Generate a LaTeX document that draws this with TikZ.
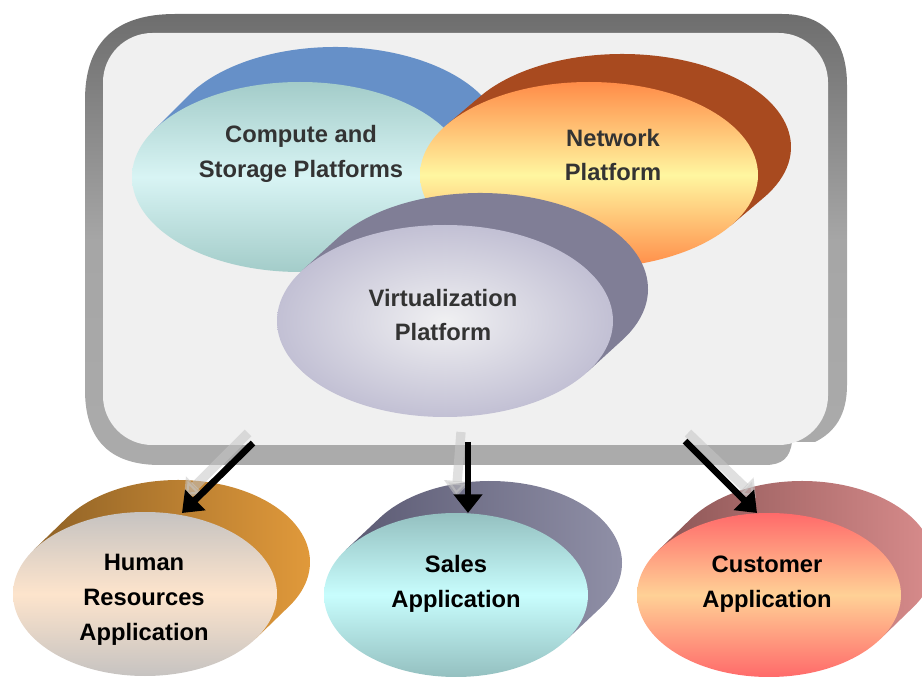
\documentclass[tikz,border=0pt]{standalone}
\usepackage{fontspec}
\setmainfont{Liberation Sans}
\usetikzlibrary{arrows.meta}
\definecolor{csBack}{HTML}{6690C8}\definecolor{csTop}{HTML}{A3CCC9}\definecolor{csMid}{HTML}{D8F4F4}
\definecolor{netBack}{HTML}{A84A1F}\definecolor{netTop}{HTML}{FF8C48}\definecolor{netMid}{HTML}{FFF6A0}
\definecolor{virBack}{HTML}{807E96}\definecolor{virIn}{HTML}{F0F0F2}\definecolor{virOut}{HTML}{C2C0D4}
\definecolor{hrL}{HTML}{8F6226}\definecolor{hrR}{HTML}{E69D3C}\definecolor{hrTop}{HTML}{C6C3C1}\definecolor{hrMid}{HTML}{FDE4CC}
\definecolor{saL}{HTML}{5B5A73}\definecolor{saR}{HTML}{9393AA}\definecolor{saTop}{HTML}{94C0C0}\definecolor{saMid}{HTML}{C8FDFD}
\definecolor{cuL}{HTML}{8C5656}\definecolor{cuR}{HTML}{DD8F8F}\definecolor{cuTop}{HTML}{FF6A6A}\definecolor{cuMid}{HTML}{FFD196}
\definecolor{panelFill}{HTML}{F0F0F0}
\definecolor{txtGray}{HTML}{333333}
% extruded ellipse: cx, cy, rx, ry, dx, dy, side style, front style
\newcommand{\xell}[8]{%
  \pgfmathsetmacro{\tz}{atan2((#5)/(#3), -(#6)/(#4))}%
  \path[#7] ({#1+#3*cos(\tz)},{#2+#4*sin(\tz)}) -- ++(#5,#6)
     arc[start angle=\tz, end angle=\tz-180, x radius=#3, y radius=#4]
     -- ++({-(#5)},{-(#6)}) -- cycle;
  \path[#8] (#1,#2) ellipse[x radius=#3, y radius=#4];
}
\begin{document}
\begin{tikzpicture}[x=0.75pt,y=-0.75pt,
  lbl/.style={font=\fontsize{17.8}{26.2}\selectfont\bfseries, align=center, inner sep=0pt},
  toplbl/.style={lbl, text=txtGray},
  botlbl/.style={lbl, text=black},
  ghost/.style={line width=7pt, draw=gray!45, opacity=0.55, -{Triangle[length=12pt,width=19pt]}},
  flowarrow/.style={line width=5pt, draw=black, -{Triangle[length=14pt,width=21pt]}}]
\useasboundingbox (0,0) rectangle (922,677);
% frame
\path[top color=black!57, bottom color=black!33, middle color=black!35]
  (85,100) .. controls (85,40) and (118,14) .. (175,14) -- (782,14)
  .. controls (825,14) and (847,40) .. (847,85) -- (847,385)
  .. controls (847,415) and (835,432) .. (815,442) -- (792,442)
  .. controls (790,458) and (782,465) .. (765,465) -- (160,465)
  .. controls (110,465) and (85,440) .. (85,390) -- cycle;
\fill[panelFill] (103,33) [rounded corners=37pt] rectangle (828,445);
% top platforms
\xell{300}{177}{168}{95}{35}{-35}{fill=csBack}{top color=csTop, bottom color=csTop, middle color=csMid}
\xell{589}{175}{169}{93}{33}{-28}{fill=netBack}{top color=netTop, bottom color=netTop, middle color=netMid}
\xell{445}{321}{168}{96}{35}{-32}{fill=virBack}{inner color=virIn, outer color=virOut}
\node[toplbl] (cs) at (301,154) {Compute and\\Storage Platforms};
\node[toplbl] (net) at (613,155) {Network\\Platform};
\node[toplbl] (vir) at (443,315) {Virtualization\\Platform};
% applications
\xell{145}{594}{132}{82}{33}{-32}{left color=hrL, right color=hrR}{top color=hrTop, bottom color=hrTop, middle color=hrMid}
\xell{456}{595}{132}{82}{34}{-32}{left color=saL, right color=saR}{top color=saTop, bottom color=saTop, middle color=saMid}
\xell{769}{595}{132}{82}{33}{-32}{left color=cuL, right color=cuR}{top color=cuTop, bottom color=cuTop, middle color=cuMid}
\node[botlbl] (hr) at (144,600) {Human\\Resources\\Application};
\node[botlbl] (sales) at (456,584) {Sales\\Application};
\node[botlbl] (cust) at (767,584) {Customer\\Application};
% arrows
\coordinate (gHRs) at (248,433); \coordinate (gHRe) at (184,497);
\coordinate (gSAs) at (461,432); \coordinate (gSAe) at (456,497);
\coordinate (gCUs) at (688,433); \coordinate (gCUe) at (756,498);
\coordinate (aHRs) at (253,443); \coordinate (aHRe) at (182,513);
\coordinate (aSAs) at (468,442); \coordinate (aSAe) at (468,513);
\coordinate (aCUs) at (685,441); \coordinate (aCUe) at (757,513);
\draw[ghost] (gHRs) -- (gHRe);
\draw[ghost] (gSAs) -- (gSAe);
\draw[ghost] (gCUs) -- (gCUe);
\draw[flowarrow] (aHRs) -- (aHRe);
\draw[flowarrow] (aSAs) -- (aSAe);
\draw[flowarrow] (aCUs) -- (aCUe);
\end{tikzpicture}
\end{document}
